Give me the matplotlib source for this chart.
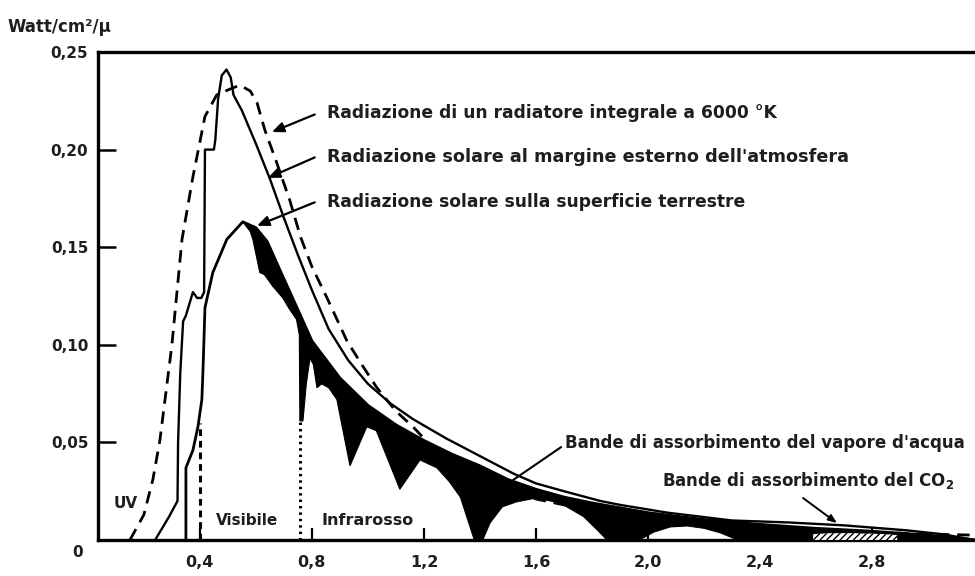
import numpy as np
import matplotlib
matplotlib.use("Agg")
import matplotlib.pyplot as plt
from matplotlib.transforms import ScaledTranslation

# ---------------- data ----------------
# Radiazione solare al margine esterno dell'atmosfera
wl_et = [0.24, 0.29, 0.32, 0.322, 0.33, 0.34, 0.35, 0.375, 0.39, 0.405, 0.415, 0.418,
         0.45, 0.455, 0.465, 0.478, 0.495, 0.51, 0.52, 0.55, 0.60, 0.65, 0.70, 0.75,
         0.80, 0.86, 0.93, 1.00, 1.08, 1.16, 1.28, 1.40, 1.52, 1.60, 1.70, 1.83, 1.90,
         2.07, 2.30, 2.50, 2.70, 2.92, 3.05, 3.17]
irr_et = [0.0, 0.012, 0.020, 0.050, 0.086, 0.112, 0.115, 0.127, 0.124, 0.124, 0.127, 0.200,
          0.200, 0.205, 0.226, 0.238, 0.241, 0.237, 0.228, 0.220, 0.203, 0.185, 0.165, 0.146,
          0.128, 0.108, 0.092, 0.080, 0.070, 0.062, 0.052, 0.043, 0.034, 0.029, 0.025, 0.020, 0.018,
          0.014, 0.010, 0.009, 0.0075, 0.005, 0.003, 0.0]

# Radiazione di un radiatore integrale a 6000 K
wl_bb = [0.15, 0.20, 0.232, 0.257, 0.30, 0.336, 0.375, 0.418, 0.46, 0.507, 0.543, 0.58,
         0.604, 0.632, 0.675, 0.721, 0.76, 0.80, 0.854, 0.925, 0.982, 1.032, 1.10, 1.161,
         1.246, 1.32, 1.40, 1.50, 1.60, 1.80, 2.00, 2.20, 2.40, 2.60, 2.80, 3.00, 3.17]
irr_bb = [0.0, 0.013, 0.031, 0.051, 0.100, 0.154, 0.186, 0.217, 0.228, 0.231, 0.233, 0.230,
          0.224, 0.210, 0.193, 0.174, 0.155, 0.140, 0.124, 0.102, 0.089, 0.078, 0.066, 0.058,
          0.045, 0.038, 0.032, 0.026, 0.021, 0.015, 0.011, 0.0085, 0.0065, 0.005, 0.004, 0.003, 0.0025]

# Radiazione solare sulla superficie terrestre: rising part up to the peak
wl_gr = [0.35, 0.35, 0.375, 0.393, 0.407, 0.411, 0.418, 0.446, 0.496, 0.553]
irr_gr = [0.0, 0.037, 0.046, 0.058, 0.072, 0.087, 0.119, 0.137, 0.154, 0.163]

# upper edge of the absorption bands (ground curve without H2O absorption)
wl_env = [0.553, 0.60, 0.64, 0.69, 0.75, 0.80, 0.90, 1.00, 1.10, 1.20, 1.30, 1.40, 1.50,
          1.60, 1.70, 1.80, 1.90, 2.00, 2.20, 2.40, 2.60, 2.80, 3.00, 3.17]
irr_env = [0.163, 0.160, 0.153, 0.137, 0.118, 0.102, 0.083, 0.069, 0.059, 0.051, 0.044, 0.038,
           0.031, 0.026, 0.022, 0.019, 0.0165, 0.014, 0.0105, 0.008, 0.006, 0.0045, 0.0025, 0.0]

# ground curve with the absorption bands (lower edge of the black areas)
wl_abs = [0.553, 0.58, 0.589, 0.614, 0.63, 0.66, 0.696, 0.721, 0.745, 0.755, 0.757, 0.768,
          0.78, 0.793, 0.805, 0.818, 0.835, 0.86, 0.889, 0.936, 0.996, 1.03, 1.114, 1.186,
          1.246, 1.29, 1.33, 1.364, 1.38, 1.41, 1.436, 1.48, 1.53, 1.60, 1.686, 1.77, 1.82,
          1.854, 1.97, 2.02, 2.08, 2.14, 2.20, 2.26, 2.32, 3.17]
irr_abs = [0.163, 0.158, 0.154, 0.137, 0.136, 0.130, 0.124, 0.118, 0.113, 0.105, 0.061, 0.061,
           0.080, 0.093, 0.090, 0.078, 0.080, 0.078, 0.072, 0.038, 0.058, 0.056, 0.026, 0.041,
           0.037, 0.030, 0.022, 0.007, 0.0, 0.0, 0.0087, 0.017, 0.0195, 0.0215, 0.019, 0.012, 0.005,
           0.0, 0.0, 0.004, 0.0067, 0.0072, 0.006, 0.0036, 0.0, 0.0]

# CO2 absorption band (hatched)
wl_co2 = [2.59, 2.65, 2.75, 2.85, 2.89]
irr_co2 = [0.0030, 0.0035, 0.0035, 0.0030, 0.0025]

# boundaries of the spectral regions
bound_vis = 0.40
bound_ir = 0.757
bound_vis_top = 0.060
bound_ir_top = 0.061

xticks = [0.4, 0.8, 1.2, 1.6, 2.0, 2.4, 2.8]
xtick_labels = ['0,4', '0,8', '1,2', '1,6', '2,0', '2,4', '2,8']
yticks = [0.0, 0.05, 0.10, 0.15, 0.20, 0.25]
ytick_labels = ['0', '0,05', '0,10', '0,15', '0,20', '0,25']

label_bb = "Radiazione di un radiatore integrale a 6000 °K"
label_et = "Radiazione solare al margine esterno dell'atmosfera"
label_gr = "Radiazione solare sulla superficie terrestre"
label_h2o = "Bande di assorbimento del vapore d'acqua"
label_co2 = "Bande di assorbimento del CO$_2$"

# ---------------- figure ----------------
plt.rcParams['font.family'] = ['DejaVu Sans']
plt.rcParams['mathtext.default'] = 'bf'
fig = plt.figure(figsize=(9.75, 5.76), dpi=100)
ax = fig.add_axes([0.1005, 0.0625, 0.8995, 0.8472])
ax.set_xlim(0.036, 3.168)
ax.set_ylim(0, 0.25)

# absorption bands (black)
poly_x = list(wl_env) + list(wl_abs)[::-1]
poly_y = list(irr_env) + list(irr_abs)[::-1]
ax.fill(poly_x, poly_y, color='black', lw=0.8, zorder=2)
ax.fill_between(wl_co2, 0, irr_co2, facecolor='white', edgecolor='black',
                hatch='/////', lw=0, zorder=3)

# curves
ax.plot(wl_bb, irr_bb, color='black', lw=2.0, ls=(0, (4.5, 2.8)), zorder=4)
ax.plot(wl_et, irr_et, color='black', lw=1.7, zorder=4)
ax.plot(list(wl_gr) + list(wl_env), list(irr_gr) + list(irr_env), color='black', lw=2.0, zorder=4)

# region boundaries
ax.plot([bound_vis, bound_vis], [0, bound_vis_top], color='black', lw=2.2,
        ls=(0, (2.2, 1.6)), zorder=4)
ax.plot([bound_ir, bound_ir], [0, bound_ir_top], color='black', lw=2.2,
        ls=(0, (0.8, 1.3)), zorder=4)

txtc = '#1e1e1e'
# region labels
ax.text(0.135, 0.0185, 'UV', fontsize=11, fontweight='bold', ha='center', va='center', color=txtc)
ax.text(0.57, 0.0102, 'Visibile', fontsize=11, fontweight='bold', ha='center', va='center', color=txtc)
ax.text(1.0, 0.0102, 'Infrarosso', fontsize=11.5, fontweight='bold', ha='center', va='center', color=txtc)

# annotations
tfs = 12.3
arrow_head = dict(arrowstyle='-|>,head_length=0.7,head_width=0.3', color='black', lw=1.6,
                  shrinkA=0, shrinkB=0)
ax.text(0.854, 0.219, label_bb, fontsize=tfs, fontweight='bold', ha='left', va='center', color=txtc)
ax.annotate('', xy=(0.657, 0.209), xytext=(0.81, 0.218), arrowprops=arrow_head)
ax.text(0.854, 0.196, label_et, fontsize=12.7, fontweight='bold', ha='left', va='center', color=txtc)
ax.annotate('', xy=(0.643, 0.1855), xytext=(0.81, 0.196), arrowprops=arrow_head)
ax.text(0.854, 0.173, label_gr, fontsize=tfs, fontweight='bold', ha='left', va='center', color=txtc)
ax.annotate('', xy=(0.604, 0.161), xytext=(0.81, 0.173), arrowprops=arrow_head)

ax.text(1.705, 0.0497, label_h2o, fontsize=12.0, fontweight='bold', ha='left', va='center',
        color=txtc)
ax.annotate('', xy=(1.518, 0.0307), xytext=(1.690, 0.0476),
            arrowprops=dict(arrowstyle='-', color='black', lw=1.5, shrinkA=0, shrinkB=0))
ax.text(2.05, 0.0307, label_co2, fontsize=12.0, fontweight='bold', ha='left', va='center', color=txtc)
ax.annotate('', xy=(2.675, 0.0087), xytext=(2.554, 0.0215),
            arrowprops=dict(arrowstyle='-|>,head_length=0.5,head_width=0.2', color='black',
                            lw=1.4, shrinkA=0, shrinkB=0))

# axes styling
for s in ['left', 'bottom', 'top']:
    ax.spines[s].set_linewidth(2.4)
ax.spines['right'].set_visible(False)
ax.set_xticks(xticks)
ax.set_xticklabels(xtick_labels, fontsize=11.5, fontweight='bold', color=txtc)
ax.set_yticks(yticks)
ax.set_yticklabels(ytick_labels, fontsize=11, fontweight='bold', color=txtc)
ax.tick_params(axis='x', direction='in', length=8.5, width=1.6, pad=11)
ax.tick_params(axis='y', direction='in', length=13, width=1.8, pad=7)
for lab in ax.get_yticklabels():
    if lab.get_text() == '0':
        lab.set_transform(lab.get_transform() + ScaledTranslation(-4 / 72, -8 / 72, fig.dpi_scale_trans))

fig.text(8 / 975, 1 - 27 / 576, 'Watt/cm²/μ', fontsize=12, fontweight='bold', ha='left',
         va='center', color=txtc)

fig.savefig('out.png', dpi=100)
